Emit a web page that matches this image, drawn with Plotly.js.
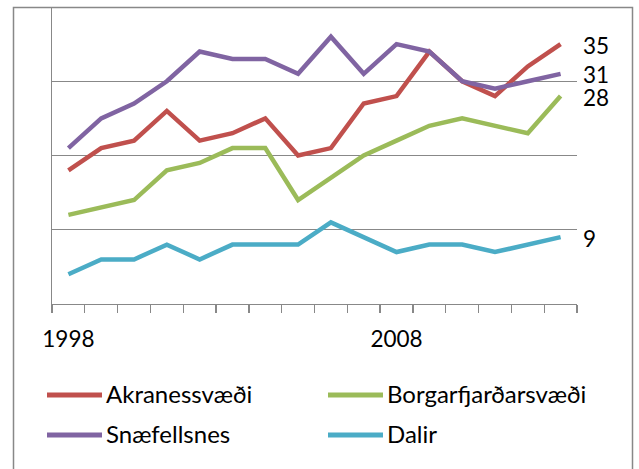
<!DOCTYPE html>
<html>
<head>
<meta charset="utf-8">
<script src="https://cdn.plot.ly/plotly-3.0.1.min.js"></script>
<style>
  html, body { margin: 0; padding: 0; background: #fff; }
  #chart { width: 639px; height: 469px; }
</style>
</head>
<body>
<div id="chart"></div>
<script>
const years = ["1998","1999","2000","2001","2002","2003","2004","2005","2006","2007","2008","2009","2010","2011","2012","2013"];
const tickLabels = ["1998","","","","","","","","","","2008","","","","",""];
const seriesNames = ["Akranessvæði", "Borgarfjarðarsvæði", "Snæfellsnes", "Dalir"];
const akranes  = [18, 21, 22, 26, 22, 23, 25, 20, 21, 27, 28, 34, 30, 28, 32, 35];
const borgarfj = [12, 13, 14, 18, 19, 21, 21, 14, 17, 20, 22, 24, 25, 24, 23, 28];
const snaefell = [21, 25, 27, 30, 34, 33, 33, 31, 36, 31, 35, 34, 30, 29, 30, 31];
const dalir    = [4, 6, 6, 8, 6, 8, 8, 8, 11, 9, 7, 8, 8, 7, 8, 9];
const colors = ["#C0504D", "#9BBB59", "#8064A2", "#4BACC6"];

const values = [akranes, borgarfj, snaefell, dalir];
const FONT = "Lato, 'Open Sans', sans-serif";

const traces = values.map((v, i) => ({
  x: years, y: v, type: "scatter", mode: "lines", name: seriesNames[i],
  line: { color: colors[i], width: 4.5 }, showlegend: false, hoverinfo: "skip"
}));

// end-of-line value labels (category index of last year)
const lastIdx = years.length - 1;
const annotations = values.map((v, i) => ({
  x: lastIdx, y: v[v.length - 1], xref: "x", yref: "y",
  text: String(v[v.length - 1]), showarrow: false, xanchor: "left", yanchor: "middle",
  xshift: 20, yshift: -1, font: { family: FONT, size: 22.5, color: "#000" }
}));

// custom legend (2 columns x 2 rows)
const L = 52, T = 7, W = 525, H = 297;
const px = p => (p - L) / W;
const py = p => (T + H - p) / H;
const legendPos = [
  { x0: 47, x1: 102, tx: 104, y: 395 },
  { x0: 328, x1: 383, tx: 385, y: 395 },
  { x0: 47, x1: 102, tx: 104, y: 435 },
  { x0: 328, x1: 383, tx: 385, y: 435 }
];
const shapes = [
  { type: "rect", xref: "paper", yref: "paper", x0: px(13.5), x1: px(632.5), y0: py(480), y1: py(7.5),
    line: { color: "#888888", width: 1.5 }, fillcolor: "rgba(0,0,0,0)", layer: "below" }
];
seriesNames.forEach((name, s) => {
  const p = legendPos[s];
  shapes.push({ type: "line", xref: "paper", yref: "paper", x0: px(p.x0), x1: px(p.x1), y0: py(p.y), y1: py(p.y),
    line: { color: colors[s], width: 5 } });
  annotations.push({ xref: "paper", yref: "paper", x: px(p.tx), y: py(p.y - 2), text: name,
    showarrow: false, xanchor: "left", yanchor: "middle", font: { family: FONT, size: 24, color: "#000" } });
});

const layout = {
  width: 639, height: 469,
  margin: { l: L, r: 639 - L - W, t: T, b: 469 - T - H },
  paper_bgcolor: "#fff", plot_bgcolor: "#fff",
  font: { family: FONT, size: 22.5, color: "#000" },
  xaxis: {
    type: "category", tickvals: years, ticktext: tickLabels, tickson: "boundaries",
    ticks: "outside", ticklen: 8, tickcolor: "#888888", tickwidth: 1.3,
    showline: true, linecolor: "#888888", linewidth: 1.3, showgrid: false, zeroline: false,
    tickangle: 0, tickfont: { family: FONT, size: 22.5, color: "#000" }, ticklabelstandoff: 15,
    range: [-0.5, 15.5], fixedrange: true
  },
  yaxis: {
    range: [0, 40], dtick: 10, tick0: 0, showticklabels: false, ticks: "",
    showgrid: true, gridcolor: "#888888", gridwidth: 1.3,
    showline: true, linecolor: "#888888", linewidth: 1.3, zeroline: false, fixedrange: true
  },
  shapes: shapes,
  annotations: annotations,
  showlegend: false
};

Plotly.newPlot("chart", traces, layout, { displayModeBar: false, staticPlot: true });
</script>
</body>
</html>
